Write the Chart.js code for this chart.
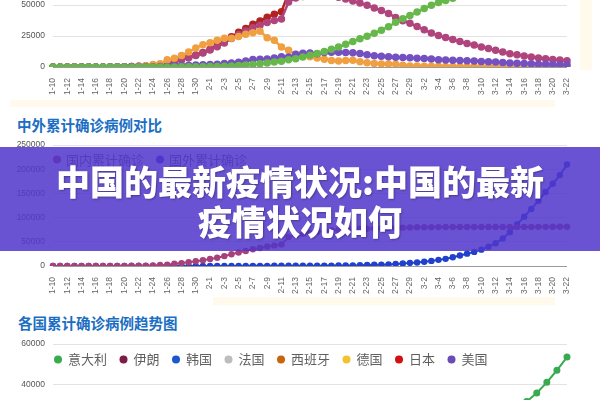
<!DOCTYPE html>
<html>
<head>
<meta charset="utf-8">
<script src="https://cdn.jsdelivr.net/npm/chart.js@4.4.1/dist/chart.umd.min.js"></script>
<style>
  html, body { margin: 0; padding: 0; }
  body { width: 600px; height: 400px; overflow: hidden; position: relative; background: #fff; font-family: "Noto Sans CJK SC", sans-serif; }
  .box { position: absolute; left: 0; width: 600px; }
  .band { position: absolute; background: #fffaec; }
  .title { position: absolute; font-size: 14.5px; line-height: 16px; font-weight: 700; color: #1b6ec2; white-space: nowrap; }
  #banner { position: absolute; left: 0; top: 147px; width: 600px; height: 104px; background: rgba(80, 55, 203, 0.86); }
  #bannerText { position: absolute; left: 0; top: 161px; width: 600px; text-align: center; color: #fff; font-size: 34px; line-height: 40px; font-weight: 900; text-shadow: 1px 1px 2px rgba(0,0,0,0.3); }
</style>
</head>
<body>
<div class="band" style="left:10px;top:100px;width:545px;height:7px"></div>
<div class="band" style="left:213px;top:297px;width:342px;height:8px"></div>
<div class="band" style="left:580px;top:0;width:12px;height:70px"></div>

<div class="box" style="top:-70px;height:167px"><canvas id="chartTrend"></canvas></div>
<div class="title" style="left:17px;top:117px">中外累计确诊病例对比</div>
<div class="box" style="top:132px;height:164px"><canvas id="chartCompare"></canvas></div>
<div class="title" style="left:18px;top:315px">各国累计确诊病例趋势图</div>
<div class="box" style="top:331px;height:164px"><canvas id="chartCountry"></canvas></div>

<div id="banner"></div>
<div id="bannerText">中国的最新疫情状况:中国的最新<br>疫情状况如何</div>

<script>
/* ------------------------------
 * 날짜 라벨 (1-10 ~ 3-22)
 * ------------------------------ */
const dayLabels = [
  '1-10','1-11','1-12','1-13','1-14','1-15','1-16','1-17','1-18','1-19','1-20','1-21','1-22','1-23','1-24','1-25','1-26','1-27','1-28','1-29','1-30','1-31',
  '2-1','2-2','2-3','2-4','2-5','2-6','2-7','2-8','2-9','2-10','2-11','2-12','2-13','2-14','2-15','2-16','2-17','2-18','2-19','2-20','2-21','2-22','2-23','2-24','2-25','2-26','2-27','2-28','2-29',
  '3-1','3-2','3-3','3-4','3-5','3-6','3-7','3-8','3-9','3-10','3-11','3-12','3-13','3-14','3-15','3-16','3-17','3-18','3-19','3-20','3-21','3-22'
];

// 累计确诊
const confirmed = [
  41,41,41,41,41,41,45,62,121,198,291,440,571,830,1287,1975,2744,4515,5974,7711,9692,11791,
  14380,17205,20438,24324,28018,31161,34546,37198,40171,42638,44653,59804,63851,66492,68500,70548,72436,74185,74576,75465,76288,76936,77150,77658,78064,78497,78824,79251,79824,
  80026,80151,80270,80409,80552,80651,80695,80735,80754,80778,80793,80813,80824,80844,80860,80881,80894,80928,80967,81008,81054,81093
];
// 现存确诊
const existing = [
  38,38,37,36,35,33,35,50,107,180,262,409,537,793,1226,1897,2635,4349,5739,7417,9308,11289,
  13748,16369,19381,22942,26302,28985,31774,33738,35982,37626,38800,52526,55748,56873,57416,57934,58016,57805,56303,54965,53284,51606,49824,47672,45604,43258,39919,37414,35329,
  32652,30004,27433,25352,23784,22177,20533,19016,17721,16145,14831,13526,12094,10734,9898,8976,8056,7263,6569,6013,5549,5120
];
// 疑似
const suspected = [
  0,0,0,0,0,0,0,0,0,0,54,37,393,1072,1965,2684,5794,6973,9239,12167,15238,17988,
  19544,21558,23214,23260,24702,26359,27657,28942,23589,21675,16067,13435,10109,8969,8228,7264,6242,5248,4922,5206,5365,4148,3434,2824,2491,2358,2308,1418,851,
  715,587,520,522,482,502,458,421,349,285,253,147,115,113,134,128,119,105,104,106,118,136
];
// 重症
const severe = [
  7,7,7,6,6,5,5,8,9,9,35,102,95,177,237,324,461,976,1239,1370,1527,1795,
  2110,2296,2788,3219,3859,4821,6101,6188,6484,7333,8204,8030,10204,11053,11272,10644,11741,11977,11864,11633,11477,10968,9915,9126,8752,8346,7952,7664,7365,
  7110,6806,6416,5952,5737,5489,5264,5111,4794,4492,4257,4020,3610,3226,3032,2830,2622,2314,2136,1963,1845,1749
];
// 治愈
const cured = [
  2,3,5,6,7,9,12,12,15,17,25,25,28,34,38,49,51,60,103,124,171,243,
  328,475,632,892,1153,1540,2050,2649,3281,3996,4740,5911,6723,8096,9419,10844,12552,14376,16155,18264,20659,22888,24734,27323,29745,32495,36117,39002,41625,
  44462,47204,49856,52045,53726,55404,57065,58600,59897,61475,62793,64111,65541,66911,67749,68679,69601,70420,71150,71740,72244,72703
];
// 国外累计确诊
const foreign = [
  0,0,0,1,1,1,2,3,4,5,6,8,10,17,30,43,56,67,80,104,125,146,
  159,171,183,215,229,272,298,320,351,398,443,466,511,527,533,686,703,805,896,1034,1233,1595,1980,2456,2761,3337,4202,5044,6340,
  7168,8774,10566,12668,14747,17956,21660,25490,29167,33855,40000,47000,57000,70000,86000,102000,118000,135000,153000,170000,188000,210000
];

/* 各国 (1-31 ~ 3-22) */
const countryLabels = [
  '1-31',
  '2-1','2-2','2-3','2-4','2-5','2-6','2-7','2-8','2-9','2-10','2-11','2-12','2-13','2-14','2-15','2-16','2-17','2-18','2-19','2-20','2-21','2-22','2-23','2-24','2-25','2-26','2-27','2-28','2-29',
  '3-1','3-2','3-3','3-4','3-5','3-6','3-7','3-8','3-9','3-10','3-11','3-12','3-13','3-14','3-15','3-16','3-17','3-18','3-19','3-20','3-21','3-22'
];
const italy = [
  2,
  2,2,2,2,2,2,3,3,3,3,3,3,3,3,3,3,3,3,3,3,3,20,79,157,229,323,470,655,889,
  1128,1694,2036,2502,3089,3858,4636,5883,7375,9172,10149,12462,15113,17660,21157,24747,27980,31506,35713,41035,47021,53578
];
// 3-13 ~ 3-22
const iran = [10075,11364,12729,13938,14991,16169,17361,18407,19644,20610];
const korea = [7869,7979,8086,8162,8236,8320,8413,8565,8652,8799];
const france = [2876,3661,4499,5423,6633,7730,9134,10995,12612,14459];
const spain = [3146,5232,6391,7798,9942,11826,14769,18077,21571,25496];
const germany = [2369,3062,3795,4838,6012,7156,8198,10999,13957,16662];
const japan = [675,716,780,814,829,873,914,950,1007,1046];
const usa = [1663,2179,2726,3499,4632,6421,7786,13680,19101,25493];

const tail = arr => countryLabels.map((_, i) => {
  const k = i - (countryLabels.length - arr.length);
  return k >= 0 ? arr[k] : null;
});

/* ------------------------------
 * 공통 옵션
 * ------------------------------ */
const tickFont = { family: '"Liberation Sans", Arial, sans-serif', size: 8.5 };

const inlineLegend = {
  id: 'inlineLegend',
  afterDraw(chart, args, opts) {
    if (!opts.show) return;
    const { ctx, chartArea } = chart;
    ctx.save();
    ctx.font = '13px "Noto Sans CJK SC"';
    ctx.textBaseline = 'middle';
    let x = chartArea.left + opts.x;
    const y = chartArea.top + opts.y;
    chart.data.datasets.forEach(ds => {
      ctx.fillStyle = ds.borderColor;
      ctx.beginPath();
      ctx.arc(x, y, 4, 0, Math.PI * 2);
      ctx.fill();
      ctx.fillStyle = '#5f5f5f';
      ctx.fillText(ds.label, x + opts.gap, y);
      x += opts.gap + ctx.measureText(ds.label).width + opts.space;
    });
    ctx.restore();
  }
};

function makeOptions(max, step, padTop, legend) {
  return {
    responsive: true,
    maintainAspectRatio: false,
    animation: false,
    layout: { padding: { top: padTop, right: 33, left: 0, bottom: 0 } },
    plugins: {
      legend: { display: false },
      tooltip: { enabled: false },
      inlineLegend: legend || { show: false }
    },
    elements: {
      line: { tension: 0 },
      point: { borderWidth: 0 }
    },
    scales: {
      x: {
        grid: { display: false },
        border: { display: false },
        ticks: {
          autoSkip: false,
          minRotation: 90,
          maxRotation: 90,
          padding: 3,
          color: '#666',
          font: tickFont,
          callback(v, i) { return i % 2 === 0 ? this.getLabelForValue(v) : null; }
        },
        afterFit(scale) { scale.height = 30; }
      },
      y: {
        min: 0,
        max: max,
        border: { display: false },
        grid: {
          drawTicks: false,
          color: c => (c.tick && c.tick.value === 0 ? '#9a9a9a' : '#e3e3e3')
        },
        ticks: {
          stepSize: step,
          padding: 8,
          color: '#555',
          font: tickFont,
          callback: v => String(v)
        },
        afterFit(scale) { scale.width = 53; }
      }
    }
  };
}

function line(label, data, color, width, radius) {
  return {
    label, data,
    borderColor: color,
    backgroundColor: color,
    pointBackgroundColor: color,
    borderWidth: width,
    pointRadius: radius,
    fill: false,
    spanGaps: false
  };
}

/* ------------------------------
 * 全国趋势 (상단, 잘린 차트)
 * ------------------------------ */
new Chart(document.getElementById('chartTrend'), {
  type: 'line',
  data: {
    labels: dayLabels,
    datasets: [
      line('治愈', cured, '#66b84a', 2.5, 2.5),
      line('重症', severe, '#7550c0', 2.5, 2.5),
      line('疑似', suspected, '#f0a040', 2.5, 2.5),
      line('现存确诊', existing, '#b0447c', 2.5, 2.5),
      line('累计确诊', confirmed, '#b3221e', 2.5, 2.5)
    ]
  },
  options: makeOptions(100000, 25000, 11.5)
});

/* ------------------------------
 * 中外累计确诊病例对比
 * ------------------------------ */
new Chart(document.getElementById('chartCompare'), {
  type: 'line',
  data: {
    labels: dayLabels,
    datasets: [
      line('国内累计确诊', confirmed, '#a8407a', 2, 2.2),
      line('国外累计确诊', foreign, '#2140cc', 2, 2.2)
    ]
  },
  options: makeOptions(250000, 50000, 10.5, { show: true, x: 4, y: 14.5, gap: 9, space: 16 }),
  plugins: [inlineLegend]
});

/* ------------------------------
 * 各国累计确诊病例趋势图
 * ------------------------------ */
new Chart(document.getElementById('chartCountry'), {
  type: 'line',
  data: {
    labels: countryLabels,
    datasets: [
      line('意大利', italy, '#3aaa50', 2, 2.5),
      line('伊朗', tail(iran), '#7d1c45', 2, 2.5),
      line('韩国', tail(korea), '#1f55cf', 2, 2.5),
      line('法国', tail(france), '#bdbdbd', 2, 2.5),
      line('西班牙', tail(spain), '#c8650c', 2, 2.5),
      line('德国', tail(germany), '#f2c230', 2, 2.5),
      line('日本', tail(japan), '#d40f0f', 2, 2.5),
      line('美国', tail(usa), '#6a4cb6', 2, 2.5)
    ]
  },
  options: makeOptions(60000, 20000, 10.7, { show: true, x: 5, y: 15.3, gap: 10, space: 16.5 }),
  plugins: [inlineLegend]
});
</script>
</body>
</html>
